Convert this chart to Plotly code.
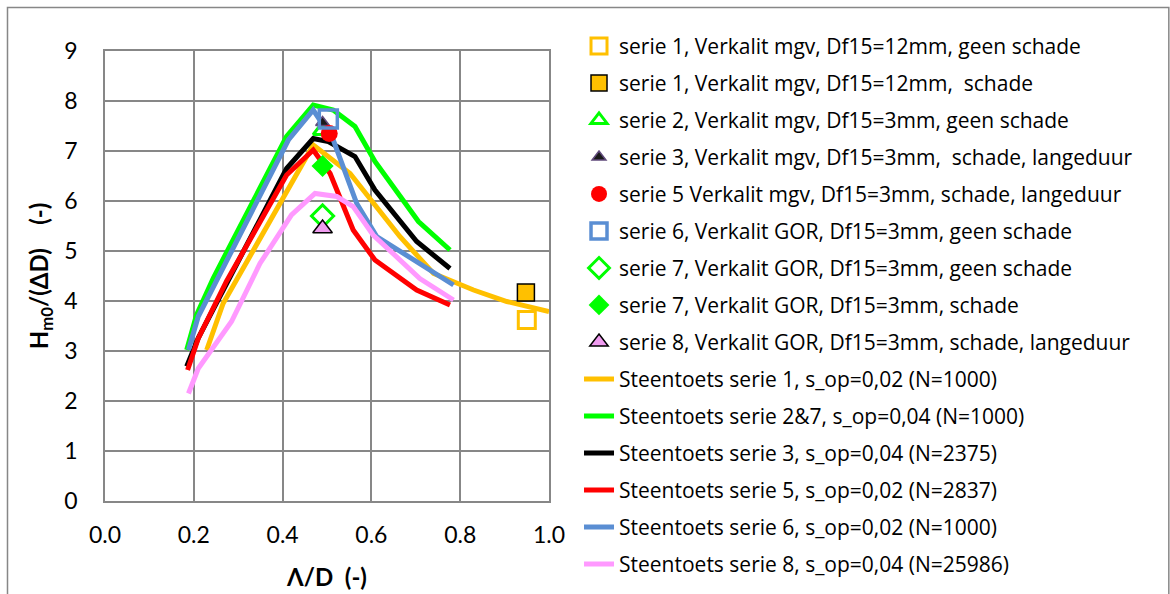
import plotly.graph_objects as go

# Steentoets curves (Lambda/D vs Hm0/(Delta D))
s1_line_x = [0.229, 0.266, 0.469, 0.552, 0.664, 0.74, 0.83, 0.905, 1.0]
s1_line_y = [3.02, 3.95, 7.12, 6.55, 5.29, 4.55, 4.22, 3.99, 3.79]

s27_line_x = [0.184, 0.206, 0.244, 0.409, 0.469, 0.514, 0.563, 0.608, 0.706, 0.777]
s27_line_y = [3.02, 3.72, 4.46, 7.29, 7.92, 7.82, 7.49, 6.79, 5.59, 5.02]

s3_line_x = [0.184, 0.21, 0.409, 0.469, 0.503, 0.563, 0.608, 0.702, 0.777]
s3_line_y = [2.69, 3.26, 6.65, 7.25, 7.19, 6.89, 6.22, 5.19, 4.65]

s5_line_x = [0.186, 0.21, 0.274, 0.409, 0.469, 0.507, 0.559, 0.608, 0.702, 0.777]
s5_line_y = [2.62, 3.25, 4.40, 6.52, 7.02, 6.55, 5.42, 4.82, 4.22, 3.92]

s6_line_x = [0.188, 0.21, 0.413, 0.469, 0.514, 0.567, 0.612, 0.709, 0.785]
s6_line_y = [3.02, 3.69, 7.22, 7.82, 7.22, 5.95, 5.29, 4.75, 4.32]

s8_line_x = [0.188, 0.21, 0.285, 0.349, 0.42, 0.473, 0.522, 0.559, 0.604, 0.709, 0.785]
s8_line_y = [2.15, 2.65, 3.59, 4.75, 5.72, 6.15, 6.09, 5.89, 5.32, 4.45, 4.02]

# Measured points
s1_geen_x, s1_geen_y = [0.95], [3.62]
s1_schade_x, s1_schade_y = [0.948], [4.17]
s2_geen_x, s2_geen_y = [0.487], [7.40]
s3_schade_x, s3_schade_y = [0.49], [7.57]
s5_schade_x, s5_schade_y = [0.505], [7.35]
s6_geen_x, s6_geen_y = [0.503], [7.64]
s7_geen_x, s7_geen_y = [0.49], [5.70]
s7_schade_x, s7_schade_y = [0.49], [6.70]
s8_schade_x, s8_schade_y = [0.49], [5.45]

ORANGE = "#FFC000"
GREEN = "#00FF00"
BLUE = "#5A8ED3"
PINK = "#FF99FF"
RED = "#FF0000"

FONT = "Lato, 'Open Sans', sans-serif"
LEGEND_FONT = "'Open Sans', Lato, sans-serif"

fig = go.Figure()

lines = [
    ("Steentoets serie 1, s_op=0,02 (N=1000)", s1_line_x, s1_line_y, ORANGE),
    ("Steentoets serie 2&7, s_op=0,04 (N=1000)", s27_line_x, s27_line_y, GREEN),
    ("Steentoets serie 3, s_op=0,04 (N=2375)", s3_line_x, s3_line_y, "#000000"),
    ("Steentoets serie 5, s_op=0,02 (N=2837)", s5_line_x, s5_line_y, RED),
    ("Steentoets serie 6, s_op=0,02 (N=1000)", s6_line_x, s6_line_y, BLUE),
    ("Steentoets serie 8, s_op=0,04 (N=25986)", s8_line_x, s8_line_y, PINK),
]

for i, (name, xs, ys, col) in enumerate(lines):
    fig.add_trace(go.Scatter(
        x=xs, y=ys, mode="lines", name=name,
        line=dict(color=col, width=5, shape="linear"),
        legendgroup=f"l{i}", legendrank=100 + i,
    ))

markers = [
    ("serie 1, Verkalit mgv, Df15=12mm, geen schade", s1_geen_x, s1_geen_y,
     dict(symbol="square-open", size=17, color=ORANGE, line=dict(width=3, color=ORANGE))),
    ("serie 1, Verkalit mgv, Df15=12mm,  schade", s1_schade_x, s1_schade_y,
     dict(symbol="square", size=17, color=ORANGE, line=dict(width=1.5, color="#000000"))),
    ("serie 2, Verkalit mgv, Df15=3mm, geen schade", s2_geen_x, s2_geen_y,
     dict(symbol="triangle-up-open", size=14, color=GREEN, line=dict(width=3, color=GREEN))),
    ("serie 3, Verkalit mgv, Df15=3mm,  schade, langeduur", s3_schade_x, s3_schade_y,
     dict(symbol="triangle-up", size=12, color="#1A1A1A", line=dict(width=1.5, color="#604A7B"))),
    ("serie 5 Verkalit mgv, Df15=3mm, schade, langeduur", s5_schade_x, s5_schade_y,
     dict(symbol="circle", size=17, color=RED, line=dict(width=0, color=RED))),
    ("serie 6, Verkalit GOR, Df15=3mm, geen schade", s6_geen_x, s6_geen_y,
     dict(symbol="square-open", size=18, color=BLUE, line=dict(width=3.5, color=BLUE))),
    ("serie 7, Verkalit GOR, Df15=3mm, geen schade", s7_geen_x, s7_geen_y,
     dict(symbol="diamond-open", size=17, color=GREEN, line=dict(width=3, color=GREEN))),
    ("serie 7, Verkalit GOR, Df15=3mm, schade", s7_schade_x, s7_schade_y,
     dict(symbol="diamond", size=17, color=GREEN, line=dict(width=0, color=GREEN))),
    ("serie 8, Verkalit GOR, Df15=3mm, schade, langeduur", s8_schade_x, s8_schade_y,
     dict(symbol="triangle-up", size=17, color="#F09CF0", line=dict(width=1.5, color="#000000"))),
]

for i, (name, xs, ys, mk) in enumerate(markers):
    fig.add_trace(go.Scatter(
        x=xs, y=ys, mode="markers", name=name, marker=mk,
        legendgroup=f"m{i}", legendrank=i,
    ))

GRID = "#878787"

fig.update_layout(
    width=1170, height=594,
    margin=dict(l=105, r=621, t=51, b=93, autoexpand=False),
    paper_bgcolor="white", plot_bgcolor="white",
    font=dict(family=FONT, color="#000000"),
    showlegend=True,
    legend=dict(
        x=1.0676, y=1.056, xanchor="left", yanchor="top",
        font=dict(family=LEGEND_FONT, size=21, color="#000000"),
        traceorder="grouped", tracegroupgap=6.7, maxheight=590,
        bgcolor="rgba(0,0,0,0)", itemsizing="trace",
    ),
    xaxis=dict(
        range=[0, 1.0], dtick=0.2, tickformat=".1f",
        showgrid=True, gridcolor=GRID, gridwidth=1.5,
        showline=True, linecolor=GRID, linewidth=1.5, mirror=True,
        zeroline=False, ticks="", ticklabelstandoff=13, automargin=False,
        tickfont=dict(family=FONT, size=23),
        title=dict(text="<b>Λ/D  (-)</b>", font=dict(family=FONT, size=24), standoff=22),
    ),
    yaxis=dict(
        range=[0, 9], dtick=1,
        showgrid=True, gridcolor=GRID, gridwidth=1.5,
        showline=True, linecolor=GRID, linewidth=1.5, mirror=True,
        zeroline=False, ticks="", ticklabelstandoff=21, automargin=False,
        tickfont=dict(family=FONT, size=23),
        title=dict(text="<b>H<sub>m0</sub>/(ΔD)\u00a0\u00a0\u00a0\u00a0(-)</b>",
                   font=dict(family=FONT, size=24), standoff=9),
    ),
    shapes=[dict(
        type="rect", xref="paper", yref="paper",
        x0=-0.2196, x1=2.396, y0=-0.3, y1=1.0967,
        line=dict(color=GRID, width=1.5), fillcolor="rgba(0,0,0,0)", layer="below",
    )],
)

fig.write_html("out.html")
